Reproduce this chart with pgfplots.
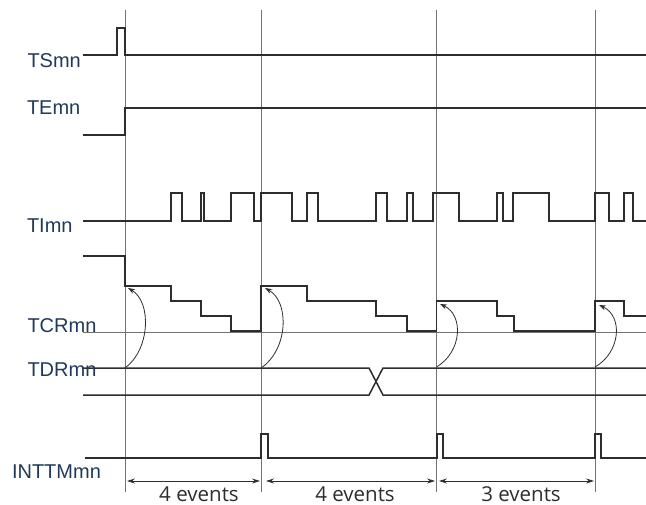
\documentclass[border=0pt]{standalone}
\usepackage{pgfplots}
\pgfplotsset{compat=1.18}
\usepackage{fontspec}
\setmainfont{Liberation Sans}
\newfontfamily\osans{Open Sans}
\usetikzlibrary{arrows.meta}
\definecolor{lblue}{RGB}{31,58,90}
\definecolor{sig}{RGB}{45,45,45}
\definecolor{vgray}{RGB}{115,115,115}
\definecolor{evt}{RGB}{45,45,45}
\begin{document}
\begin{tikzpicture}
\begin{axis}[name=ax, at={(0,0)}, anchor=south west,
  width=646bp, height=505bp, scale only axis,
  xmin=0, xmax=646, ymin=0, ymax=505, y dir=reverse,
  hide axis, clip=false]
% vertical reference lines
\addplot[vgray, line width=0.8pt] coordinates {(125,10) (125,492)};
\addplot[vgray, line width=0.8pt] coordinates {(261,10) (261,492)};
\addplot[vgray, line width=0.8pt] coordinates {(436.5,10) (436.5,492)};
\addplot[vgray, line width=0.8pt] coordinates {(595,10) (595,492)};
% TCR baseline
\addplot[vgray, line width=0.7pt] coordinates {(83,332) (646,332)};
% TSmn
\addplot[sig, line width=1.5pt] coordinates {(83,55) (117,55) (117,28) (125,28) (125,55) (646,55)};
% TEmn
\addplot[sig, line width=1.5pt] coordinates {(83,135) (125,135) (125,108) (646,108)};
% TImn
\addplot[sig, line width=1.5pt] coordinates {(83,221) (171,221) (171,193) (182,193) (182,221) (201,221) (201,193) (204,193) (204,221) (231,221) (231,193) (254,193) (254,221) (261,221) (261,193) (292,193) (292,221) (307,221) (307,193) (318,193) (318,221) (376,221) (376,193) (387,193) (387,221) (407,221) (407,193) (413,193) (413,221) (433,221) (433,193) (459,193) (459,221) (497,221) (497,193) (503,193) (503,221) (513,221) (513,193) (549,193) (549,221) (595,221) (595,193) (609,193) (609,221) (624,221) (624,193) (633,193) (633,221) (646,221)};
% TCRmn
\addplot[sig, line width=1.5pt] coordinates {(83,256) (125,256) (125,286) (171,286) (171,301) (201,301) (201,316) (231,316) (231,331) (261,331) (261,286) (307,286) (307,301) (376,301) (376,316) (407,316) (407,331) (436.5,331) (436.5,301) (497,301) (497,316) (514,316) (514,331) (595,331) (595,301) (624,301) (624,316) (646,316)};
% TDRmn bus
\addplot[sig, line width=1.5pt] coordinates {(83,368) (369,368) (383,395) (646,395)};
\addplot[sig, line width=1.5pt] coordinates {(83,395) (369,395) (383,368) (646,368)};
% INTTMmn
\addplot[sig, line width=1.5pt] coordinates {(85,458) (261,458) (261,434) (268,434) (268,458) (437,458) (437,434) (443,434) (443,458) (595,458) (595,434) (601,434) (601,458) (646,458)};
% reload arcs
\draw[sig, line width=0.8pt, -{Stealth[length=7pt,width=5pt]}] (axis cs:125,368) .. controls (axis cs:150,350) and (axis cs:152,302) .. (axis cs:128,288);
\draw[sig, line width=0.8pt, -{Stealth[length=7pt,width=5pt]}] (axis cs:261,368) .. controls (axis cs:288,350) and (axis cs:290,302) .. (axis cs:265,288);
\draw[sig, line width=0.8pt, -{Stealth[length=7pt,width=5pt]}] (axis cs:436.5,367) .. controls (axis cs:462,352) and (axis cs:464,315) .. (axis cs:440,304);
\draw[sig, line width=0.8pt, -{Stealth[length=7pt,width=5pt]}] (axis cs:595,367) .. controls (axis cs:621,352) and (axis cs:623,316) .. (axis cs:599,305);
% dimension arrows
\draw[sig, line width=0.8pt, {Stealth[length=8pt,width=5pt]}-{Stealth[length=8pt,width=5pt]}] (axis cs:127,481) -- (axis cs:260,481);
\draw[sig, line width=0.8pt, {Stealth[length=8pt,width=5pt]}-{Stealth[length=8pt,width=5pt]}] (axis cs:266,481) -- (axis cs:435,481);
\draw[sig, line width=0.8pt, {Stealth[length=8pt,width=5pt]}-{Stealth[length=8pt,width=5pt]}] (axis cs:439,481) -- (axis cs:594,481);
% labels
\begin{scope}[every node/.style={inner sep=0pt, outer sep=0pt, anchor=base west, text=lblue, font=\fontsize{20bp}{21bp}\selectfont}]
\node at (axis cs:27.5,67.5) {TSmn};
\node at (axis cs:27,115) {TEmn};
\node at (axis cs:27,232.5) {TImn};
\node at (axis cs:27.5,332.5) {TCRmn};
\node at (axis cs:27.5,376.5) {TDRmn};
\node at (axis cs:12,478.3) {INTTMmn};
\end{scope}
\begin{scope}[every node/.style={inner sep=0pt, outer sep=0pt, anchor=base, text=evt, font=\osans\fontsize{20.5bp}{21bp}\selectfont}]
\node at (axis cs:199,501.5) {4 events};
\node at (axis cs:355,501.5) {4 events};
\node at (axis cs:521,501.5) {3 events};
\end{scope}
\end{axis}
\pgfresetboundingbox
\path[use as bounding box] (ax.south west) rectangle (ax.north east);
\end{tikzpicture}
\end{document}
